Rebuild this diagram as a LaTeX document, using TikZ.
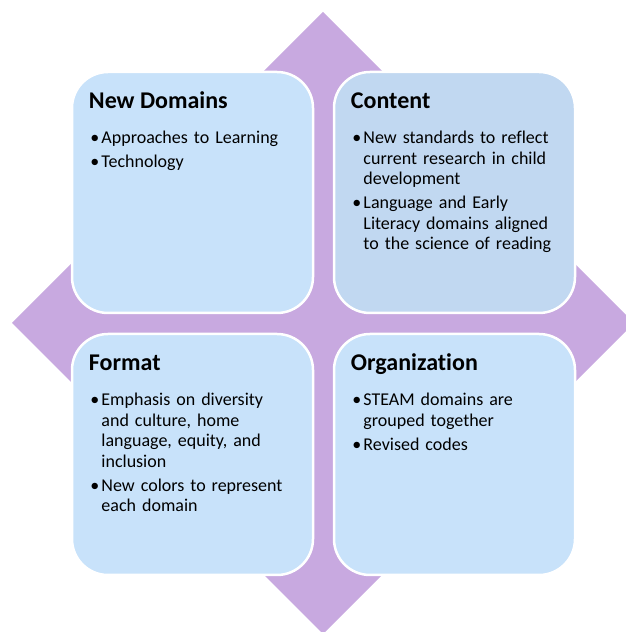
\documentclass[tikz,border=0pt]{standalone}
\usepackage{fontspec}
\setmainfont{Carlito}[Ligatures=NoCommon]
\definecolor{lilac}{HTML}{C8A9E0}
\definecolor{paleblue}{HTML}{C8E2FA}
\definecolor{greyblue}{HTML}{C1D8F1}
\newcommand{\pnt}[1]{\noindent\hangindent=11pt\hangafter=1\makebox[11pt][l]{\textbullet}\strut#1\par}
\begin{document}
\begin{tikzpicture}
[
    x = 1pt, y = 1pt,
    quad/.style = {draw = white, line width = 2.5pt, fill = paleblue, rounded corners = 36pt,
                   minimum width = 241pt, minimum height = 241pt, inner sep = 0pt},
    head/.style = {font = \fontsize{24}{28}\selectfont\bfseries, anchor = base west, inner sep = 0pt,
                   xshift = 18pt, yshift = -37.5pt},
    items/.style = {font = \fontsize{18}{20.5}\selectfont\setlength{\parskip}{3.7pt},
                    anchor = north west, inner sep = 0pt, text width = 220pt, align = left,
                    xshift = 19.5pt, yshift = -58.5pt}
]
\useasboundingbox (0,0) rectangle (626,632);
\clip (0,0) rectangle (626,632);
% background diamond
\fill[lilac] (323,620) -- (634,309) -- (323,-2) -- (12,309) -- cycle;
% the four boxes
\node[quad] (nd) at (192.5,439.5) {};
\node[quad, fill = greyblue] (ct) at (454.5,439.5) {};
\node[quad] (fm) at (192.5,177.5) {};
\node[quad] (og) at (454.5,177.5) {};
% headings
\node[head] (ndT) at (nd.north west) {New Domains};
\node[head] (ctT) at (ct.north west) {Content};
\node[head] (fmT) at (fm.north west) {Format};
\node[head] (ogT) at (og.north west) {Organization};
% bullet lists
\node[items] (ndL) at (nd.north west) {
    \pnt{Approaches to Learning}
    \pnt{Technology}};
\node[items] (ctL) at (ct.north west) {
    \pnt{New standards to reflect\newline current research in child\newline development}
    \pnt{Language and Early\newline Literacy domains aligned\newline to the science of reading}};
\node[items] (fmL) at (fm.north west) {
    \pnt{Emphasis on diversity\newline and culture, home\newline language, equity, and\newline inclusion}
    \pnt{New colors to represent\newline each domain}};
\node[items] (ogL) at (og.north west) {
    \pnt{STEAM domains are\newline grouped together}
    \pnt{Revised codes}};
\end{tikzpicture}
\end{document}
